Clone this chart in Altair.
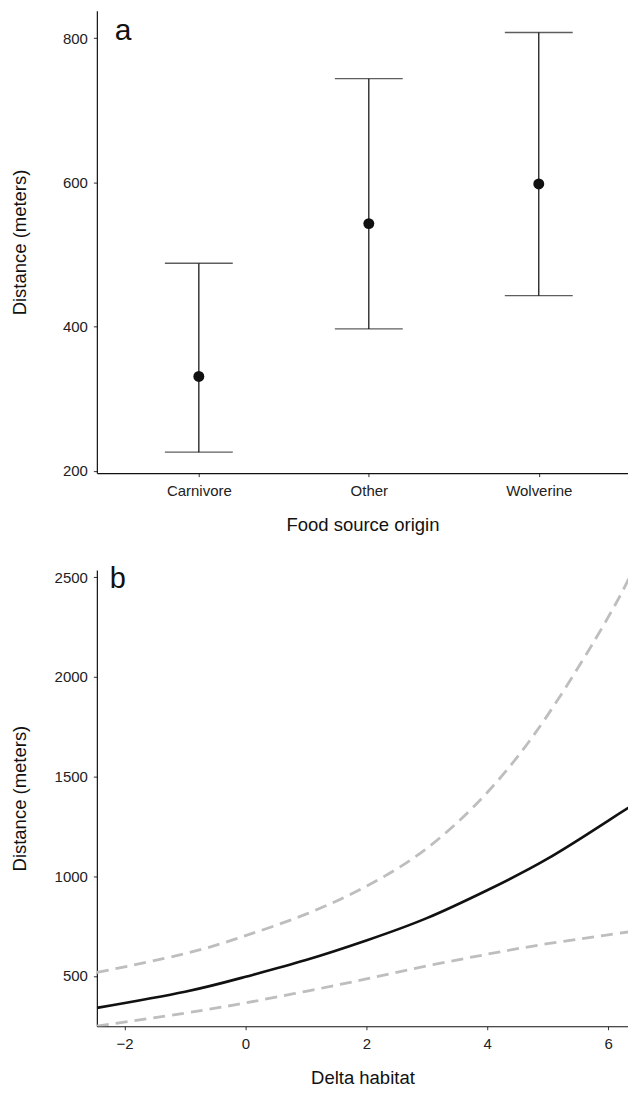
import json
import altair as alt
import pandas as pd

# Panel a: food source origin
categories = ["Carnivore", "Other", "Wolverine"]
means = [331, 543, 598]
lower = [226, 397, 443]
upper = [488, 744, 808]

# Panel b: delta habitat
delta = [-2.46, -1, 0, 1, 2, 3, 4, 5, 6, 6.41]
fit = [340, 421, 496, 580, 678, 790, 930, 1088, 1278, 1357]
ci_upper = [518, 612, 702, 810, 950, 1140, 1420, 1808, 2298, 2536]
ci_lower = [248, 314, 365, 423, 485, 550, 609, 662, 706, 724]

FONT = "Liberation Sans, Arial, Helvetica, sans-serif"

df_a = pd.DataFrame({"origin": categories, "mean": means, "lower": lower, "upper": upper})
df_b = pd.DataFrame({"delta": delta, "fit": fit, "ci_upper": ci_upper, "ci_lower": ci_lower})
df_la = pd.DataFrame({"label": ["a"]})
df_lb = pd.DataFrame({"label": ["b"]})

cats_js = json.dumps(categories)

yaxis_common = dict(title="Distance (meters)", titleX=-67, labelPadding=6, format="d")

# categories placed at positions 1..3 of a discrete-like continuous axis (as in ggplot)
xa = alt.X("pos:Q", scale=alt.Scale(domain=[0.4, 3.525], nice=False, zero=False),
           axis=alt.Axis(title="Food source origin", values=[1, 2, 3],
                         labelExpr=f"{cats_js}[datum.value - 1]",
                         labelPadding=7, titlePadding=17, labelFlush=False))
ya_scale = alt.Scale(domain=[197, 838], nice=False, zero=False)
ya_axis = alt.Axis(values=[200, 400, 600, 800], **yaxis_common)

base_a = alt.Chart(df_a).transform_calculate(pos=f"indexof({cats_js}, datum.origin) + 1")
rules = base_a.mark_rule(color="#1a1a1a", strokeWidth=1.3).encode(
    x=xa, y=alt.Y("lower:Q", scale=ya_scale, axis=ya_axis), y2="upper:Q")
cap_lo = base_a.mark_tick(color="#1a1a1a", size=68, thickness=1.3, orient="horizontal").encode(
    x=xa, y=alt.Y("lower:Q", scale=ya_scale, axis=ya_axis))
cap_hi = base_a.mark_tick(color="#1a1a1a", size=68, thickness=1.3, orient="horizontal").encode(
    x=xa, y=alt.Y("upper:Q", scale=ya_scale, axis=ya_axis))
pts = base_a.mark_circle(color="#111111", size=120, opacity=1).encode(
    x=xa, y=alt.Y("mean:Q", scale=ya_scale, axis=ya_axis))
lab_a = alt.Chart(df_la).mark_text(fontSize=30, font=FONT, align="left", baseline="alphabetic",
                                    color="#111111").encode(
    x=alt.value(18), y=alt.value(29), text="label:N")

panel_a = alt.layer(rules, cap_lo, cap_hi, pts, lab_a).properties(width=532, height=463)

xb = alt.X("delta:Q", scale=alt.Scale(domain=[-2.46, 6.33], nice=False, zero=False),
           axis=alt.Axis(values=[-2, 0, 2, 4, 6], title="Delta habitat", labelPadding=7,
                         titlePadding=17, labelFlush=False))
yb_scale = alt.Scale(domain=[248, 2536], nice=False, zero=False)
yb_axis = alt.Axis(values=[500, 1000, 1500, 2000, 2500], **yaxis_common)

base_b = alt.Chart(df_b)
l_up = base_b.mark_line(color="#BEBEBE", strokeWidth=2.8, strokeDash=[12, 7], interpolate="natural",
                        clip=True).encode(
    x=xb, y=alt.Y("ci_upper:Q", scale=yb_scale, axis=yb_axis))
l_lo = base_b.mark_line(color="#BEBEBE", strokeWidth=2.8, strokeDash=[12, 7], interpolate="natural",
                        clip=True).encode(
    x=xb, y=alt.Y("ci_lower:Q", scale=yb_scale, axis=yb_axis))
l_fit = base_b.mark_line(color="#111111", strokeWidth=2.6, interpolate="natural", clip=True).encode(
    x=xb, y=alt.Y("fit:Q", scale=yb_scale, axis=yb_axis))
lab_b = alt.Chart(df_lb).mark_text(fontSize=29, font=FONT, align="left", baseline="alphabetic",
                                    color="#111111").encode(
    x=alt.value(13), y=alt.value(18), text="label:N")

panel_b = alt.layer(l_up, l_lo, l_fit, lab_b).properties(width=532, height=457)

chart = alt.vconcat(panel_a, panel_b, spacing=31).properties(
    padding={"left": 3, "top": 2, "right": 0, "bottom": 0}
).configure(background="white").configure_view(stroke=None).configure_axis(
    grid=False,
    domainColor="#111111", domainWidth=1.2,
    tickColor="#333333", tickSize=3.5, tickWidth=1,
    labelFont=FONT, labelFontSize=15, labelColor="#222222",
    titleFont=FONT, titleFontSize=18.5, titleFontWeight="normal", titleColor="#111111",
)

chart.save("out.html", embed_options={"renderer": "svg", "actions": False})
